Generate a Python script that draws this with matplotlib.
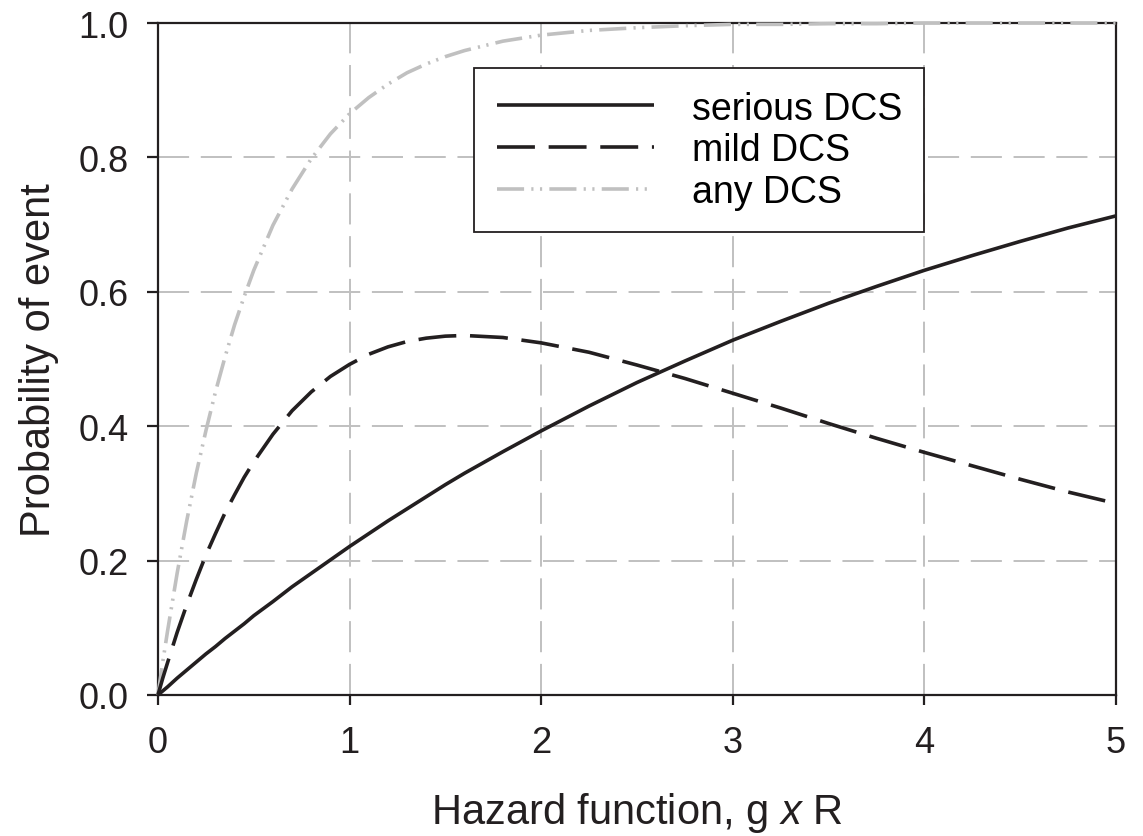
import matplotlib
matplotlib.use("Agg")
import matplotlib.pyplot as plt

plt.rcParams['font.family'] = ['Liberation Sans', 'DejaVu Sans']
plt.rcParams['mathtext.fontset'] = 'custom'
plt.rcParams['mathtext.rm'] = 'Liberation Sans'
plt.rcParams['mathtext.it'] = 'Liberation Sans:italic'

# Data
hazard = [0, 0.025, 0.05, 0.1, 0.15, 0.2, 0.25, 0.3, 0.35, 0.4, 0.45, 0.5,
          0.6, 0.7, 0.8, 0.9, 1.0, 1.1, 1.2, 1.3, 1.4, 1.5, 1.6, 1.8, 2.0,
          2.25, 2.5, 2.75, 3.0, 3.25, 3.5, 3.75, 4.0, 4.25, 4.5, 4.75, 5.0]
serious_dcs = [0, 0.006, 0.012, 0.025, 0.037, 0.049, 0.061, 0.072, 0.084,
               0.095, 0.106, 0.118, 0.139, 0.161, 0.181, 0.201, 0.221, 0.240,
               0.259, 0.277, 0.295, 0.313, 0.330, 0.362, 0.393, 0.430, 0.465,
               0.497, 0.528, 0.556, 0.583, 0.608, 0.632, 0.654, 0.675, 0.695,
               0.713]
mild_dcs = [0, 0.025, 0.048, 0.093, 0.134, 0.172, 0.208, 0.240, 0.271, 0.298,
            0.324, 0.347, 0.388, 0.423, 0.451, 0.474, 0.492, 0.507, 0.518,
            0.526, 0.531, 0.534, 0.535, 0.532, 0.524, 0.510, 0.491, 0.471,
            0.449, 0.427, 0.404, 0.382, 0.361, 0.341, 0.321, 0.302, 0.285]
any_dcs = [0, 0.049, 0.095, 0.181, 0.259, 0.330, 0.393, 0.451, 0.503, 0.551,
           0.593, 0.632, 0.699, 0.753, 0.798, 0.835, 0.865, 0.889, 0.909,
           0.926, 0.939, 0.950, 0.959, 0.973, 0.982, 0.989, 0.993, 0.996,
           0.998, 0.998, 0.999, 0.999, 1.0, 1.0, 1.0, 1.0, 1.0]
labels = ['serious DCS', 'mild DCS', 'any DCS']
xticks = [0, 1, 2, 3, 4, 5]
yticks = [0.0, 0.2, 0.4, 0.6, 0.8, 1.0]

fig = plt.figure(figsize=(11.43, 8.37), dpi=100)
ax = fig.add_axes([0.1382, 0.1685, 0.8382, 0.8028])

lw = 2.6
ax.plot(hazard, serious_dcs, color='#231f20', lw=lw, label=labels[0],
        zorder=4, clip_on=False, solid_capstyle='butt')
ax.plot(hazard, mild_dcs, color='#231f20', lw=lw, label=labels[1],
        dashes=(10.5, 3.8), zorder=4, clip_on=False)
ax.plot(hazard, any_dcs, color='#c0c0c0', lw=lw, label=labels[2],
        dashes=(7.5, 2.0, 0.6, 1.8, 0.6, 2.0), zorder=3, clip_on=False)

ax.set_xlim(0, 5)
ax.set_ylim(0, 1.0)
ax.set_xticks(xticks)
ax.set_yticks(yticks)
ax.set_xticklabels([str(t) for t in xticks])
ax.set_yticklabels([f"{t:.1f}" for t in yticks])

ax.grid(True, color='#c0c0c0', lw=1.4, dashes=(16, 6), zorder=1)
ax.set_axisbelow(True)

for s in ax.spines.values():
    s.set_color('#231f20')
    s.set_linewidth(1.6)

ax.tick_params(axis='both', direction='out', width=1.6,
               color='#231f20', labelsize=26, labelcolor='#231f20')
ax.tick_params(axis='y', length=8, pad=13)
ax.tick_params(axis='x', length=7.5, pad=14)

ax.set_xlabel(r'Hazard function, g $\mathit{x}$ R', fontsize=30,
              color='#231f20', labelpad=22)
ax.set_ylabel('Probability of event', fontsize=30, color='#231f20', labelpad=14)

leg = ax.legend(loc='upper left', bbox_to_anchor=(0.33, 0.933), fontsize=27,
                handlelength=4.2, handletextpad=1.0, labelspacing=0.15,
                borderpad=0.6, borderaxespad=0, fancybox=False, framealpha=1,
                edgecolor='#231f20')
leg.get_frame().set_linewidth(1.3)
leg.set_zorder(5)

fig.savefig('out.png', dpi=100)
